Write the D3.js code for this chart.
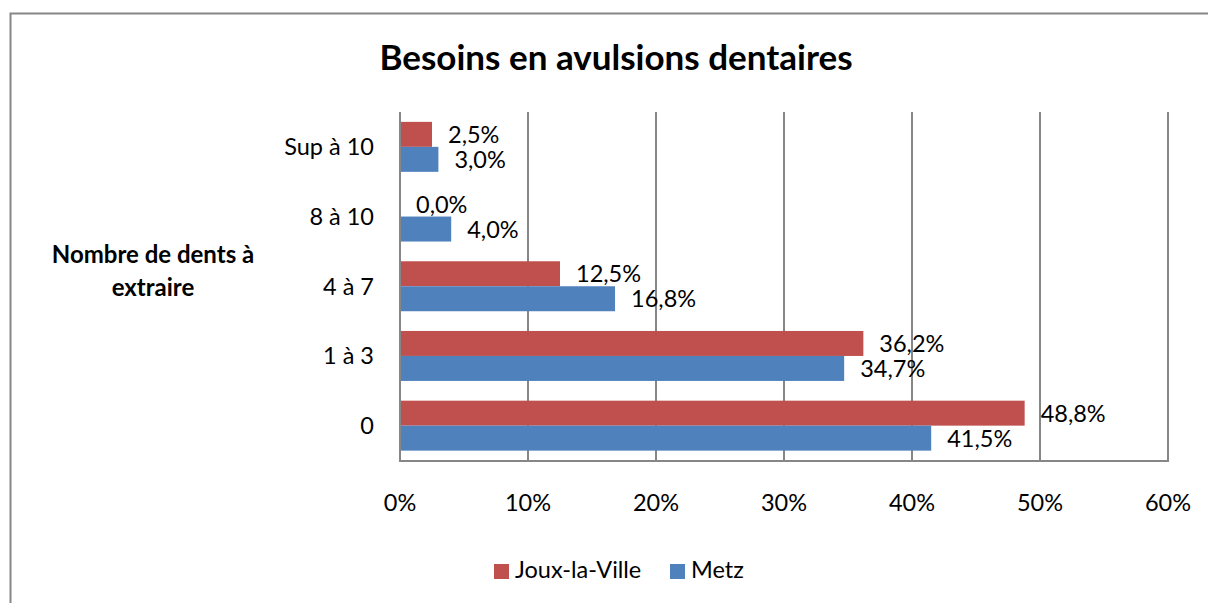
<!DOCTYPE html>
<html>
<head>
<meta charset="utf-8">
<script src="https://cdn.jsdelivr.net/npm/d3@7"></script>
<style>
  html, body { margin: 0; padding: 0; background: #fff; }
  svg { display: block; }
  text { font-family: Lato, "Open Sans", sans-serif; fill: #000; }
</style>
</head>
<body>
<svg id="chart" width="1208" height="603"></svg>
<script>
const categories = ["Sup à 10", "8 à 10", "4 à 7", "1 à 3", "0"];
const seriesNames = ["Joux-la-Ville", "Metz"];
const jouxValues = [2.5, 0.0, 12.5, 36.2, 48.8];
const metzValues = [3.0, 4.0, 16.8, 34.7, 41.5];
const xTicks = [0, 10, 20, 30, 40, 50, 60];
const colors = ["#C0504D", "#4F81BD"];
const title = "Besoins en avulsions dentaires";
const yTitleLines = ["Nombre de dents à", "extraire"];

const seriesValues = [jouxValues, metzValues];
const fmt = v => v.toFixed(1).replace(".", ",") + "%";
const FS = 23.5;

const svg = d3.select("#chart");

// outer frame
svg.append("rect")
  .attr("x", 10.5).attr("y", 13.5)
  .attr("width", 1300).attr("height", 700)
  .attr("fill", "none").attr("stroke", "#868686").attr("stroke-width", 2);

const x = d3.scaleLinear().domain([0, 60]).range([400, 1168]);
const y = d3.scaleBand().domain(categories).range([112, 460.5])
  .paddingInner(0.283).paddingOuter(0.1415);
const ySub = d3.scaleBand().domain(seriesNames).range([0, y.bandwidth()]);

// gridlines
svg.append("g").selectAll("line").data(xTicks).join("line")
  .attr("x1", d => x(d)).attr("x2", d => x(d))
  .attr("y1", 112).attr("y2", 461)
  .attr("stroke", "#868686").attr("stroke-width", 2);

// bottom axis line
svg.append("line")
  .attr("x1", 399).attr("x2", 1169).attr("y1", 461).attr("y2", 461)
  .attr("stroke", "#868686").attr("stroke-width", 2);

// bars
const barData = [];
categories.forEach((c, i) => {
  seriesNames.forEach((s, j) => {
    barData.push({ cat: c, series: s, value: seriesValues[j][i], color: colors[j] });
  });
});

svg.append("g").selectAll("rect").data(barData).join("rect")
  .attr("x", x(0) + 1)
  .attr("y", d => y(d.cat) + ySub(d.series))
  .attr("width", d => Math.max(0, x(d.value) - x(0) - 1))
  .attr("height", ySub.bandwidth())
  .attr("fill", d => d.color);

// value labels
svg.append("g").selectAll("text").data(barData).join("text")
  .attr("x", d => x(d.value) + 16)
  .attr("y", d => y(d.cat) + ySub(d.series) + ySub.bandwidth() / 2)
  .attr("dy", "0.36em")
  .attr("font-size", FS)
  .text(d => fmt(d.value));

// category labels
svg.append("g").selectAll("text").data(categories).join("text")
  .attr("x", 374)
  .attr("y", d => y(d) + y.bandwidth() / 2)
  .attr("dy", "0.36em")
  .attr("text-anchor", "end")
  .attr("font-size", FS)
  .text(d => d);

// x tick labels
svg.append("g").selectAll("text").data(xTicks).join("text")
  .attr("x", d => x(d))
  .attr("y", 511)
  .attr("text-anchor", "middle")
  .attr("font-size", FS)
  .text(d => d + "%");

// title
svg.append("text")
  .attr("x", 616).attr("y", 70)
  .attr("text-anchor", "middle")
  .attr("font-size", 35).attr("font-weight", "bold")
  .text(title);

// y axis title
svg.append("g").selectAll("text").data(yTitleLines).join("text")
  .attr("x", 153)
  .attr("y", (d, i) => 263 + i * 33)
  .attr("text-anchor", "middle")
  .attr("font-size", 24).attr("font-weight", "bold")
  .text(d => d);

// legend
const legendX = [494, 670];
const lg = svg.append("g").selectAll("g").data(seriesNames).join("g");
lg.append("rect")
  .attr("x", (d, i) => legendX[i]).attr("y", 564)
  .attr("width", 15).attr("height", 15)
  .attr("fill", (d, i) => colors[i]);
lg.append("text")
  .attr("x", (d, i) => legendX[i] + 21).attr("y", 578)
  .attr("font-size", FS)
  .text(d => d);
</script>
</body>
</html>
